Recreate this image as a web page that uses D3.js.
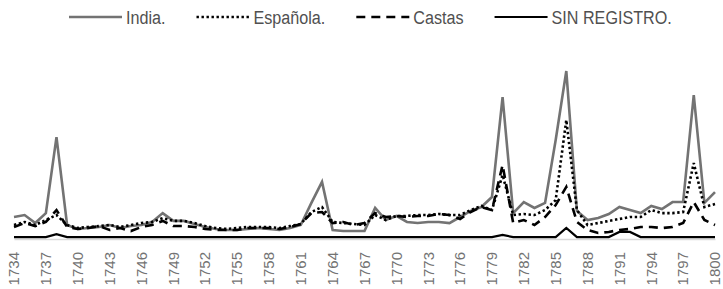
<!DOCTYPE html>
<html>
<head>
<meta charset="utf-8">
<script src="https://cdn.jsdelivr.net/npm/d3@7"></script>
<style>
  body { margin: 0; background: #fff; }
  svg { display: block; }
</style>
</head>
<body>
<div id="chart"></div>
<script>
const years = d3.range(1734, 1801)
const tickYears = d3.range(1734, 1801, 3)

const india = [
  11.8, 12.9, 8.4, 14.0, 56.7, 7.3, 5.1, 5.6, 6.2, 7.3,
  5.6, 6.7, 7.3, 9.0, 14.0, 9.6, 9.6, 7.9, 6.2, 5.1,
  4.5, 4.5, 5.1, 5.6, 5.1, 4.5, 5.6, 7.3, 19.7, 31.5,
  4.5, 3.9, 3.9, 3.9, 16.9, 10.1, 12.4, 9.0, 8.4, 9.0,
  9.0, 8.4, 11.8, 15.2, 17.4, 23.0, 79.2, 14.0, 20.2, 16.9,
  19.7, 55.1, 93.8, 15.2, 10.1, 11.2, 13.5, 17.4, 15.7, 14.0,
  18.0, 16.3, 20.2, 20.2, 80.3, 19.7, 25.8
]
const espanola = [
  7.3, 9.0, 7.3, 10.1, 12.9, 7.3, 5.6, 6.2, 6.7, 7.3,
  6.2, 7.3, 8.4, 9.0, 11.2, 9.6, 9.6, 8.4, 6.7, 5.6,
  5.1, 5.6, 6.2, 6.2, 6.2, 5.6, 6.7, 7.9, 14.6, 17.4,
  9.0, 8.4, 7.9, 7.3, 12.9, 10.1, 12.4, 12.4, 12.9, 12.9,
  13.5, 12.9, 12.9, 15.7, 18.0, 15.7, 35.4, 12.9, 13.5, 12.9,
  15.7, 21.3, 66.3, 15.7, 7.3, 8.4, 9.6, 10.7, 11.8, 11.8,
  15.7, 14.0, 14.0, 14.6, 42.1, 17.4, 19.1
]
const castas = [
  6.2, 8.4, 6.7, 9.0, 15.7, 6.2, 5.1, 5.6, 6.7, 4.5,
  5.6, 3.9, 6.2, 7.3, 9.6, 6.7, 6.7, 6.2, 5.1, 4.5,
  4.5, 4.5, 5.6, 5.6, 5.6, 5.1, 6.2, 7.9, 14.0, 14.6,
  8.4, 9.0, 7.3, 8.4, 14.0, 11.8, 12.4, 11.8, 12.4, 12.4,
  13.5, 12.9, 10.7, 14.6, 17.4, 15.7, 41.0, 8.4, 10.1, 7.3,
  11.8, 18.5, 28.7, 9.0, 4.5, 2.8, 3.4, 4.5, 5.1, 6.2,
  6.2, 5.6, 6.2, 8.4, 20.2, 10.1, 7.3
]
const sinRegistro = [
  0.5, 0.5, 0.5, 0.5, 2.2, 0.5, 0.5, 0.5, 0.5, 0.5,
  0.5, 0.5, 0.5, 0.5, 0.5, 0.5, 0.5, 0.5, 0.5, 0.5,
  0.5, 0.5, 0.5, 0.5, 0.5, 0.5, 0.5, 0.5, 0.5, 0.5,
  0.5, 0.5, 0.5, 0.5, 0.5, 0.5, 0.5, 0.5, 0.5, 0.5,
  0.5, 0.5, 0.5, 0.5, 0.5, 0.5, 1.7, 0.5, 0.5, 0.5,
  0.5, 0.5, 5.6, 0.5, 0.5, 0.5, 0.5, 3.4, 3.4, 0.5,
  0.5, 0.5, 0.5, 0.5, 0.5, 0.5, 0.5
]

const seriesNames = ["India.", "Española.", "Castas", "SIN REGISTRO."]
const seriesValues = [india, espanola, castas, sinRegistro]

// line look per series
const styles = [
  {stroke: "#737373", width: 2.6, dash: null},
  {stroke: "#000", width: 2.6, dash: "2.4,2.6"},
  {stroke: "#000", width: 2.6, dash: "9,6"},
  {stroke: "#000", width: 2.2, dash: null},
]

const size = [723, 289]
const margin = {top: 60, right: 8, bottom: 51, left: 14}

const svg = d3.select("#chart").append("svg")
  .attr("width", size[0])
  .attr("height", size[1])

const x = d3.scaleLinear()
  .domain([1734, 1800])
  .range([margin.left, size[0] - margin.right])

const y = d3.scaleLinear()
  .domain([0, 100])
  .range([size[1] - margin.bottom, margin.top])

const xAxis = svg.append("g")
  .attr("transform", `translate(0,${y(0)})`)
  .call(d3.axisBottom(x).tickValues(tickYears).tickFormat(d3.format("d")).tickSize(0))

xAxis.select(".domain")
  .attr("stroke", "#d9d9d9")
  .attr("stroke-width", 1.5)
  .attr("transform", "translate(0,1)")

xAxis.selectAll("text")
  .attr("font-family", "'Liberation Sans', Arial, sans-serif")
  .attr("font-size", 15)
  .attr("fill", "#737373")
  .attr("x", -14)
  .attr("y", 0)
  .attr("dy", "0.32em")
  .attr("transform", "rotate(-90)")
  .style("text-anchor", "end")

const line = d3.line()
  .x((d, i) => x(years[i]))
  .y(d => y(d))

svg.append("g")
  .attr("fill", "none")
  .attr("stroke-linejoin", "miter")
  .selectAll("path")
  .data(seriesValues)
  .join("path")
    .attr("d", line)
    .attr("stroke", (d, i) => styles[i].stroke)
    .attr("stroke-width", (d, i) => styles[i].width)
    .attr("stroke-dasharray", (d, i) => styles[i].dash)

// legend, the source font is a narrow one so squeeze the text a bit
const legend = svg.append("g")
  .attr("font-family", "'Liberation Sans', Arial, sans-serif")
  .attr("font-size", 19)
  .attr("fill", "#505050")

const squeeze = 0.85
let lx = 69
const ly = 17
seriesNames.forEach((name, i) => {
  legend.append("line")
    .attr("x1", lx).attr("x2", lx + 53)
    .attr("y1", ly).attr("y2", ly)
    .attr("stroke", styles[i].stroke)
    .attr("stroke-width", styles[i].width)
    .attr("stroke-dasharray", styles[i].dash)
  const t = legend.append("text")
    .attr("transform", `translate(${lx + 57},${ly}) scale(${squeeze},1)`)
    .attr("dy", "0.35em")
    .text(name)
  lx += 57 + t.node().getComputedTextLength() * squeeze + 31
})
</script>
</body>
</html>
